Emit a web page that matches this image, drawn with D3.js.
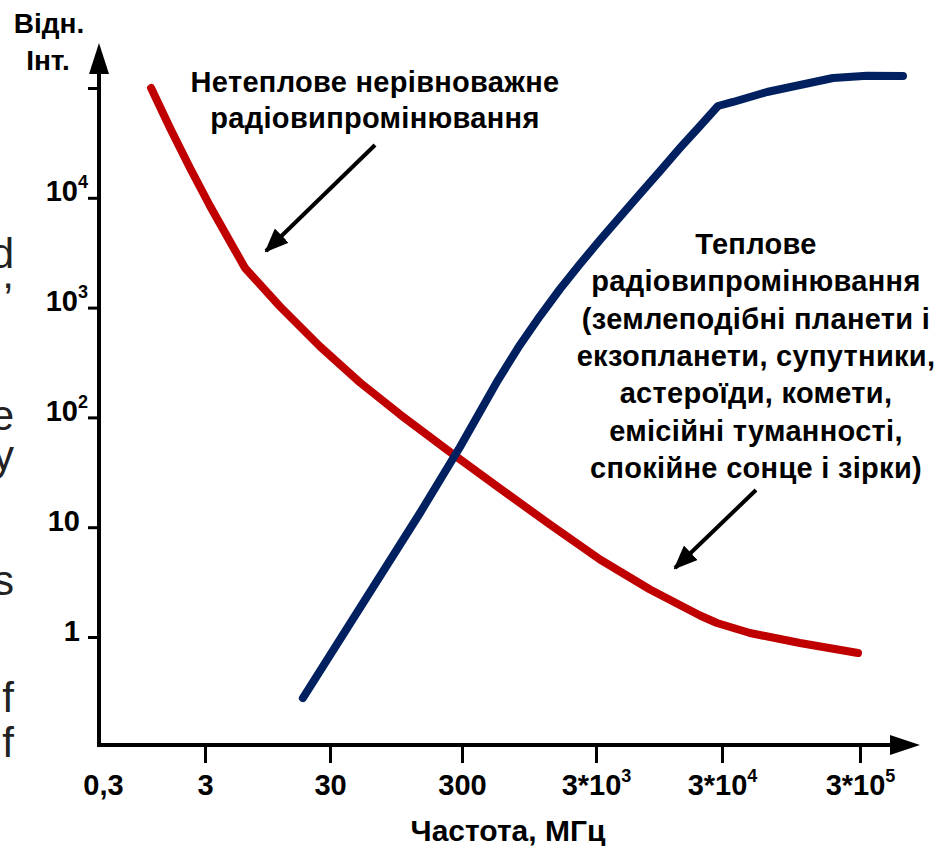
<!DOCTYPE html>
<html><head><meta charset="utf-8">
<script src="https://cdn.jsdelivr.net/npm/d3@7"></script>
<style>
body{margin:0;background:#fff}
svg{display:block}
text{font-family:"Liberation Sans",Arial,sans-serif;font-weight:bold;fill:#000}
</style>
</head><body>
<svg id="c" width="938" height="846"></svg>
<script>
// ---- data ----
const xTicks = [0.3, 3, 30, 300, 3000, 30000, 300000];
const xTickBase = ["0,3", "3", "30", "300", "3*10", "3*10", "3*10"];
const xTickExp = ["", "", "", "", "3", "4", "5"];
const yTicks = [1, 10, 100, 1000, 10000, 100000];
const yTickBase = ["1", "10", "10", "10", "10", ""];
const yTickExp = ["", "", "2", "3", "4", ""];

// Non-thermal (red)
const nonThermalFreq = [0.93, 1.403, 2.166, 3.289, 4.583, 6.27, 11.94, 24.95, 50.62, 101.7, 243.4, 576.4, 1361, 3227, 8050, 20070, 27370, 47860, 110200, 290100];
const nonThermalInt  = [100000, 43220, 18680, 8420, 4305, 2295, 1023, 442.3, 207.9, 106.3, 48.4, 22.5, 10.58, 5.08, 2.71, 1.57, 1.341, 1.087, 0.882, 0.715];
// Thermal (blue)
const thermalFreq = [18.2, 144.2, 289.7, 557, 812, 1146, 1616, 2279, 3227, 4651, 6704, 9660, 13930, 20070, 27880, 36060, 63570, 110200, 191200, 337100, 614800];
const thermalInt  = [0.278, 13.47, 53.75, 219, 456.5, 838, 1477, 2496, 4128, 6686, 10830, 17540, 28420, 45070, 68570, 74580, 91960, 106500, 123350, 129400, 128600];

const nonThermalLabel = ["Нетеплове нерівноважне", "радіовипромінювання"];
const thermalLabel = ["Теплове", "радіовипромінювання", "(землеподібні планети і", "екзопланети, супутники,", "астероїди, комети,", "емісійні туманності,", "спокійне сонце і зірки)"];
const yAxisTitle = ["Відн.", "Інт."];
const xAxisTitle = "Частота, МГц";
// annotation arrows: [fromFreq, fromInt, toFreq, toInt]
const nonThermalArrow = [65.8, 30260, 9.23, 3278];
const thermalArrow = [52900, 21.8, 12710, 4.25];
const strayLetters = ["d", ",", "e", "y", "s", "f", "f"];

// ---- scales ----
const svg = d3.select("#c");
const x = d3.scaleLog().domain(xTicks).range([99, 205, 330, 462, 596, 722, 860]);
const y = d3.scaleLog().domain([1, 100000]).range([637, 88]);
const X0 = 99, Y0 = 745;

// stray clipped letters at the left edge
const strayY = [268, 288, 430, 470, 595, 712, 757];
svg.append("g").selectAll("text").data(strayLetters).join("text")
  .attr("x", 14).attr("y", (d, i) => strayY[i])
  .attr("text-anchor", "end")
  .style("font-weight", "normal").style("font-size", "42px").style("fill", "#222")
  .text(d => d);

// ---- x axis ----
const xAxis = d3.axisBottom(x).tickValues(xTicks).tickSize(18).tickSizeOuter(0).tickFormat(() => "");
const gx = svg.append("g").attr("transform", `translate(0,${Y0})`).call(xAxis);
gx.select(".domain").remove();
gx.selectAll(".tick line").attr("stroke", "#000").attr("stroke-width", 3)
  .filter(d => d === xTicks[0]).remove();
gx.selectAll(".tick text").remove();
gx.selectAll(".tick").each(function(d, i) {
  const t = d3.select(this).append("text")
    .attr("y", 50).attr("text-anchor", "middle").attr("dx", i === 0 ? 4 : 0)
    .style("font-size", "29px");
  t.append("tspan").text(xTickBase[i]);
  if (xTickExp[i]) t.append("tspan").attr("dy", -13).style("font-size", "18px").text(xTickExp[i]);
});

// ---- y axis ----
const yAxis = d3.axisLeft(y).tickValues(yTicks).tickSize(11).tickSizeOuter(0).tickFormat(() => "");
const gy = svg.append("g").attr("transform", `translate(${X0},0)`).call(yAxis);
gy.select(".domain").remove();
gy.selectAll(".tick line").attr("stroke", "#000").attr("stroke-width", 3);
gy.selectAll(".tick text").remove();
gy.selectAll(".tick").each(function(d, i) {
  if (!yTickBase[i]) return;
  const t = d3.select(this).append("text")
    .attr("x", yTickExp[i] ? -11 : -19).attr("y", 3).attr("text-anchor", "end")
    .style("font-size", "29px");
  t.append("tspan").text(yTickBase[i]);
  if (yTickExp[i]) t.append("tspan").attr("dy", -13).style("font-size", "18px").text(yTickExp[i]);
});

// axis lines with arrowheads
svg.append("path").attr("d", `M${X0},${Y0}V62`).attr("stroke", "#000").attr("stroke-width", 4).attr("fill", "none");
svg.append("path").attr("d", `M${X0 - 2},${Y0}H900`).attr("stroke", "#000").attr("stroke-width", 4).attr("fill", "none");
svg.append("path").attr("d", `M${X0},43L${X0 - 10},74L${X0 + 10},74Z`).attr("fill", "#000");
svg.append("path").attr("d", `M920,${Y0}L890,${Y0 - 10}L890,${Y0 + 10}Z`).attr("fill", "#000");

// axis titles
svg.append("g").selectAll("text").data(yAxisTitle).join("text")
  .attr("x", (d, i) => i === 0 ? 49 : 48).attr("y", (d, i) => i === 0 ? 33 : 70)
  .attr("text-anchor", "middle").style("font-size", "28px").text(d => d);
svg.append("text").attr("x", 508).attr("y", 841).attr("text-anchor", "middle")
  .style("font-size", "30px").text(xAxisTitle);

// ---- curves ----
const line = d3.line().x(d => x(d[0])).y(d => y(d[1])).curve(d3.curveLinear);
svg.append("path").datum(nonThermalFreq.map((f, i) => [f, nonThermalInt[i]]))
  .attr("d", line).attr("fill", "none").attr("stroke", "#C00000")
  .attr("stroke-width", 8).attr("stroke-linecap", "round").attr("stroke-linejoin", "round");
svg.append("path").datum(thermalFreq.map((f, i) => [f, thermalInt[i]]))
  .attr("d", line).attr("fill", "none").attr("stroke", "#002060")
  .attr("stroke-width", 8).attr("stroke-linecap", "round").attr("stroke-linejoin", "round");

// ---- annotation arrows ----
const defs = svg.append("defs");
defs.append("marker").attr("id", "ah").attr("markerUnits", "userSpaceOnUse")
  .attr("viewBox", "0 0 24 20").attr("refX", 22).attr("refY", 10)
  .attr("markerWidth", 24).attr("markerHeight", 20).attr("orient", "auto")
  .append("path").attr("d", "M0,0L24,10L0,20Z").attr("fill", "#000");
[nonThermalArrow, thermalArrow].forEach(a => {
  svg.append("line")
    .attr("x1", x(a[0])).attr("y1", y(a[1])).attr("x2", x(a[2])).attr("y2", y(a[3]))
    .attr("stroke", "#000").attr("stroke-width", 4).attr("marker-end", "url(#ah)");
});

// ---- annotation text ----
svg.append("g").selectAll("text").data(nonThermalLabel).join("text")
  .attr("x", 375).attr("y", (d, i) => 92 + i * 36).attr("text-anchor", "middle")
  .style("font-size", "29px").style("letter-spacing", "0.3px").text(d => d);
svg.append("g").selectAll("text").data(thermalLabel).join("text")
  .attr("x", 756).attr("y", (d, i) => 254 + i * 37.3).attr("text-anchor", "middle")
  .style("font-size", "29px").style("letter-spacing", "0.3px").text(d => d);
</script>
</body></html>
